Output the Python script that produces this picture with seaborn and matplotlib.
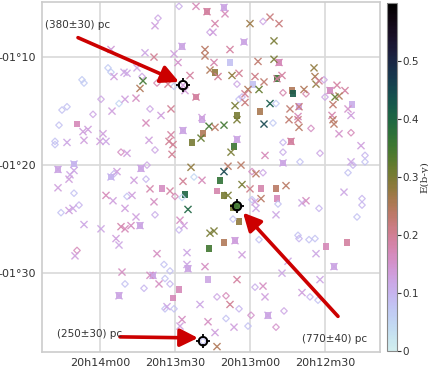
import numpy as np
import pandas as pd
import matplotlib
matplotlib.use('Agg')
import matplotlib.pyplot as plt
from matplotlib.colors import ListedColormap, Normalize
from matplotlib.cm import ScalarMappable
from matplotlib.path import Path
import seaborn as sns

# RA in seconds of time after 20h00m, Dec in arcmin
diamond_ra = [808.4, 816.8, 796.0, 836.8, 835.6, 847.2, 846.4, 823.2, 817.2, 810.4,
              839.6, 832.4, 855.2, 853.2, 820.0, 842.8, 774.8, 785.2, 750.4, 766.8,
              757.6, 750.0, 784.4, 783.2, 769.6, 856.4, 858.0, 858.0, 818.0, 831.6,
              821.2, 850.4, 834.4, 821.6, 802.4, 810.0, 829.2, 807.2, 855.6, 848.4,
              818.0, 808.4, 770.8, 755.6, 739.6, 766.8, 766.8, 752.0, 734.0, 738.8,
              734.0, 760.0, 779.2, 774.8, 768.8, 779.2, 786.8, 752.4, 740.8, 735.2,
              735.2, 737.2, 760.8, 849.2, 814.4, 830.0, 822.4, 812.0, 814.0, 812.0,
              814.0, 810.4, 798.8, 776.4, 760.4, 756.4, 754.0, 778.0, 756.0, 752.8,
              793.2, 789.6, 784.4, 766.4, 789.6, 779.6, 780.8, 769.6]
diamond_dec = [-65.3, -66.4, -67.7, -71.0, -71.4, -72.1, -72.4, -71.8, -72.4, -72.7,
               -73.9, -74.3, -74.9, -74.6, -74.8, -75.3, -66.7, -72.5, -72.1, -73.3,
               -73.4, -73.7, -73.9, -73.7, -74.3, -76.3, -77.8, -78.1, -78.6, -78.8,
               -80.0, -82.6, -80.8, -81.3, -81.1, -82.9, -82.9, -83.0, -84.4, -83.7,
               -84.6, -86.0, -76.1, -76.6, -77.0, -77.9, -78.8, -78.9, -79.1, -80.0,
               -79.7, -79.7, -80.6, -80.7, -83.6, -83.2, -85.0, -84.0, -80.7, -83.1,
               -83.7, -84.8, -86.5, -87.9, -89.2, -91.0, -91.4, -89.8, -90.5, -91.0,
               -93.3, -93.3, -96.3, -86.9, -86.8, -86.9, -86.8, -91.3, -92.2, -92.5,
               -92.2, -92.1, -93.3, -93.5, -94.2, -93.9, -94.9, -95.0]
diamond_ebv = [0.11, 0.12, 0.12, 0.07, 0.07, 0.07, 0.07, 0.12, 0.18, 0.07,
               0.12, 0.05, 0.08, 0.08, 0.12, 0.12, 0.12, 0.12, 0.12, 0.18,
               0.18, 0.12, 0.08, 0.10, 0.07, 0.08, 0.08, 0.08, 0.12, 0.16,
               0.12, 0.08, 0.10, 0.10, 0.05, 0.17, 0.08, 0.05, 0.08, 0.10,
               0.11, 0.10, 0.07, 0.16, 0.17, 0.10, 0.11, 0.12, 0.10, 0.10,
               0.08, 0.08, 0.16, 0.12, 0.08, 0.08, 0.08, 0.10, 0.08, 0.10,
               0.10, 0.08, 0.08, 0.17, 0.08, 0.08, 0.10, 0.08, 0.08, 0.10,
               0.08, 0.08, 0.08, 0.08, 0.10, 0.08, 0.08, 0.11, 0.10, 0.08,
               0.12, 0.17, 0.10, 0.12, 0.08, 0.15, 0.08, 0.15]

cross_ra = [801.6, 818.0, 835.6, 822.0, 810.4, 798.0, 818.4, 808.8, 798.0, 796.0,
            834.4, 830.4, 829.2, 825.2, 822.8, 824.0, 812.8, 804.0, 806.0, 806.8,
            830.0, 825.6, 835.2, 815.6, 811.6, 799.2, 790.0, 780.0, 772.0, 768.4,
            794.0, 794.8, 770.4, 788.0, 794.4, 776.8, 770.4, 792.8, 787.2, 784.4,
            778.0, 774.4, 776.4, 767.2, 769.2, 754.4, 754.0, 753.6, 752.4, 758.4,
            745.2, 742.0, 744.4, 746.0, 748.0, 780.8, 782.0, 782.0, 786.0, 772.0,
            764.0, 760.8, 760.4, 746.8, 747.2, 740.8, 739.6, 846.8, 844.8, 846.4,
            853.2, 838.8, 840.0, 837.6, 821.6, 820.4, 811.6, 812.4, 810.8, 811.2,
            806.8, 799.6, 796.4, 829.2, 856.8, 850.4, 850.4, 852.0, 852.4, 856.8,
            823.6, 833.2, 835.6, 826.4, 803.6, 806.8, 799.2, 820.0, 812.0, 837.6,
            834.8, 827.2, 804.8, 818.4, 830.0, 852.4, 850.8, 825.6, 846.4, 839.6,
            831.6, 830.0, 827.6, 824.0, 808.0, 806.4, 796.0, 790.4, 785.2, 794.0,
            774.4, 764.4, 760.4, 760.8, 746.8, 746.4, 744.4, 785.2, 787.6, 763.6,
            774.0, 735.6, 739.6, 766.8, 783.6, 788.8, 790.4, 777.6, 783.2, 780.0,
            765.6, 788.8, 775.6, 778.0, 777.6, 785.2, 769.6, 759.2, 757.6, 742.4,
            794.4, 850.0, 833.6, 832.4, 817.2, 805.2, 831.2, 820.0, 818.8, 816.4,
            805.2, 804.8, 798.0, 832.4, 813.2, 800.0, 807.2, 808.0, 796.8, 786.0,
            783.2, 753.6, 746.4, 764.8, 767.2, 752.0, 785.2, 774.8, 774.0, 759.2,
            788.0, 772.8, 786.4, 794.0, 793.2, 790.4, 782.4, 807.2, 797.2, 801.6,
            768.4]
cross_dec = [-65.3, -67.1, -69.3, -69.6, -69.7, -69.3, -70.0, -70.5, -69.9, -71.2,
             -71.8, -71.4, -71.5, -71.0, -72.2, -72.9, -72.5, -71.7, -73.1, -72.6,
             -73.9, -73.8, -75.0, -75.4, -74.8, -75.6, -66.0, -66.9, -66.3, -66.9,
             -66.9, -67.7, -68.5, -69.3, -70.5, -70.4, -70.2, -71.8, -71.7, -71.5,
             -71.8, -72.3, -73.0, -71.7, -72.0, -71.0, -71.8, -72.5, -72.2, -73.0,
             -72.6, -73.1, -73.6, -73.7, -73.1, -73.0, -73.4, -74.2, -74.5, -74.3,
             -74.8, -75.5, -74.6, -74.4, -75.4, -74.8, -75.4, -76.9, -76.7, -77.7,
             -77.9, -77.1, -77.8, -77.8, -76.1, -77.7, -77.2, -77.8, -78.1, -79.0,
             -76.8, -77.5, -76.4, -78.9, -80.4, -79.9, -80.5, -80.9, -81.3, -82.1,
             -80.3, -80.6, -81.1, -81.4, -80.2, -81.5, -81.4, -82.2, -82.4, -82.8,
             -83.3, -82.8, -84.1, -83.4, -84.0, -84.2, -84.0, -84.8, -85.5, -85.9,
             -85.7, -85.9, -85.6, -85.6, -85.1, -85.6, -86.3, -76.3, -75.8, -76.5,
             -76.2, -75.8, -76.5, -75.8, -75.8, -76.2, -77.1, -77.6, -78.8, -77.8,
             -79.1, -78.2, -79.7, -79.8, -80.0, -80.1, -80.6, -80.8, -81.8, -82.2,
             -81.9, -82.8, -83.1, -83.4, -84.0, -83.8, -84.6, -83.5, -83.3, -82.5,
             -86.1, -88.4, -86.8, -87.4, -88.2, -88.1, -89.9, -90.2, -90.2, -91.0,
             -89.2, -89.6, -89.4, -92.1, -93.1, -92.9, -94.3, -94.9, -94.5, -87.0,
             -88.3, -88.2, -89.4, -88.9, -90.0, -90.6, -90.6, -91.2, -92.2, -91.8,
             -92.9, -93.9, -95.0, -95.5, -96.8, -65.4, -68.6, -69.0, -65.8, -73.7,
             -70.5]
cross_ebv = [0.17, 0.13, 0.14, 0.12, 0.13, 0.24, 0.20, 0.15, 0.24, 0.25,
             0.13, 0.12, 0.12, 0.12, 0.35, 0.25, 0.20, 0.19, 0.14, 0.13,
             0.13, 0.16, 0.13, 0.13, 0.20, 0.13, 0.17, 0.27, 0.22, 0.22,
             0.18, 0.13, 0.30, 0.19, 0.18, 0.23, 0.30, 0.20, 0.28, 0.20,
             0.21, 0.23, 0.32, 0.19, 0.19, 0.28, 0.26, 0.28, 0.20, 0.25,
             0.19, 0.19, 0.25, 0.32, 0.15, 0.25, 0.20, 0.22, 0.30, 0.42,
             0.23, 0.17, 0.22, 0.23, 0.18, 0.15, 0.13, 0.13, 0.13, 0.13,
             0.12, 0.13, 0.13, 0.12, 0.17, 0.13, 0.19, 0.20, 0.20, 0.20,
             0.12, 0.32, 0.35, 0.13, 0.12, 0.10, 0.12, 0.12, 0.13, 0.13,
             0.12, 0.13, 0.10, 0.13, 0.28, 0.20, 0.17, 0.18, 0.19, 0.17,
             0.13, 0.13, 0.40, 0.16, 0.13, 0.13, 0.12, 0.13, 0.12, 0.12,
             0.18, 0.17, 0.16, 0.12, 0.16, 0.13, 0.30, 0.35, 0.30, 0.24,
             0.45, 0.23, 0.24, 0.21, 0.24, 0.24, 0.15, 0.12, 0.30, 0.19,
             0.17, 0.13, 0.12, 0.12, 0.24, 0.24, 0.45, 0.24, 0.30, 0.21,
             0.24, 0.30, 0.24, 0.13, 0.12, 0.35, 0.12, 0.12, 0.16, 0.12,
             0.30, 0.13, 0.13, 0.12, 0.16, 0.12, 0.16, 0.16, 0.12, 0.16,
             0.12, 0.12, 0.16, 0.12, 0.12, 0.12, 0.16, 0.13, 0.16, 0.13,
             0.13, 0.12, 0.12, 0.12, 0.12, 0.12, 0.19, 0.16, 0.13, 0.13,
             0.20, 0.12, 0.13, 0.13, 0.25, 0.12, 0.12, 0.12, 0.19, 0.19,
             0.17]

square_ra = [797.2, 807.2, 801.6, 790.4, 782.4, 788.0, 768.4, 794.0, 778.8, 769.2,
             763.2, 762.8, 748.0, 785.2, 776.0, 760.4, 739.2, 849.2, 806.8, 799.2,
             798.8, 803.2, 856.8, 850.4, 823.6, 835.6, 815.2, 806.0, 786.4, 785.2,
             763.6, 766.8, 792.0, 793.2, 775.6, 769.6, 769.2, 790.4, 786.8, 784.4,
             796.4, 818.8, 804.8, 796.8, 832.4, 808.4, 810.8, 790.4, 786.0, 749.6,
             741.2, 746.4, 772.8, 824.0, 785.2]
square_dec = [-65.8, -69.0, -73.7, -65.4, -68.6, -70.5, -70.5, -71.4, -72.5, -72.0,
              -73.1, -73.4, -73.1, -75.4, -75.0, -74.6, -74.4, -76.2, -76.8, -75.8,
              -77.1, -77.9, -80.4, -79.9, -80.3, -81.1, -82.2, -82.7, -78.3, -77.6,
              -77.8, -79.8, -81.4, -82.4, -82.2, -82.2, -83.1, -82.8, -83.9, -85.2,
              -87.7, -90.2, -89.6, -90.6, -92.1, -91.5, -92.3, -87.2, -87.0, -87.5,
              -87.2, -89.4, -93.9, -85.6, -83.8]
square_ebv = [0.19, 0.12, 0.19, 0.12, 0.12, 0.08, 0.17, 0.28, 0.08, 0.36,
              0.25, 0.42, 0.17, 0.30, 0.26, 0.12, 0.11, 0.17, 0.12, 0.12,
              0.25, 0.30, 0.12, 0.10, 0.12, 0.10, 0.16, 0.40, 0.36, 0.12,
              0.19, 0.12, 0.37, 0.18, 0.18, 0.24, 0.17, 0.30, 0.30, 0.28,
              0.35, 0.12, 0.12, 0.12, 0.12, 0.17, 0.17, 0.25, 0.13, 0.17,
              0.19, 0.12, 0.12, 0.12, 0.35]

target_ra = [806.8, 785.2, 798.8]
target_dec = [-72.6, -83.8, -96.3]
target_label = ['(380±30) pc', '(770±40) pc', '(250±30) pc']
label_ra = [862.0, 759.2, 857.2]
label_dec = [-67.0, -96.1, -95.6]
arrow_tail_ra = [848.8, 744.8, 832.0]
arrow_tail_dec = [-68.2, -94.0, -95.9]
arrow_tip_ra = [808.4, 782.8, 800.8]
arrow_tip_dec = [-72.3, -84.4, -96.0]

ra_ticks = [840, 810, 780, 750]
ra_ticklabels = ['20h14m00', '20h13m30', '20h13m00', '20h12m30']
dec_ticks = [-70, -80, -90]
dec_ticklabels = ['-01°10', '-01°20', '-01°30']
cbar_ticks = [0, 0.1, 0.2, 0.3, 0.4, 0.5]

sns.set_style('whitegrid', {'grid.color': '#d9d9d9', 'axes.edgecolor': '#cccccc'})
plt.rcParams['font.family'] = ['DejaVu Sans']

cmap = ListedColormap(plt.cm.cubehelix(np.linspace(0.9, 0.0, 256)))
vmin, vmax = 0.0, 0.6

fig = plt.figure(figsize=(4.28, 3.76), dpi=100)
ax = fig.add_axes([42/428, 24/376, 338/428, 350/376])

sq = pd.DataFrame({'ra': square_ra, 'dec': square_dec, 'ebv': square_ebv})
dm = pd.DataFrame({'ra': diamond_ra, 'dec': diamond_dec, 'ebv': diamond_ebv})
cr = pd.DataFrame({'ra': cross_ra, 'dec': cross_dec, 'ebv': cross_ebv})

sns.scatterplot(data=sq, x='ra', y='dec', hue='ebv', palette=cmap, hue_norm=(vmin, vmax),
                marker='s', s=24, linewidth=0, alpha=0.9, legend=False, ax=ax, zorder=3)

sns.scatterplot(data=dm, x='ra', y='dec', hue='ebv', palette=cmap, hue_norm=(vmin, vmax),
                marker='D', s=11, linewidth=0.9, legend=False, ax=ax, zorder=3)
coll = ax.collections[-1]
fc = coll.get_facecolors()
fc[:, 3] = 0.85
coll.set_edgecolors(fc)
coll.set_facecolors('none')

sns.scatterplot(data=cr, x='ra', y='dec', hue='ebv', palette=cmap, hue_norm=(vmin, vmax),
                marker='x', s=26, linewidth=1.0, legend=False, ax=ax, zorder=4)
coll = ax.collections[-1]
fc = coll.get_facecolors()
fc[:, 3] = 0.9
coll.set_edgecolors(fc)

# target markers: ring with four ticks
tick_path = Path([(0, 0.5), (0, 1), (0, -0.5), (0, -1), (0.5, 0), (1, 0), (-0.5, 0), (-1, 0)],
                 [Path.MOVETO, Path.LINETO] * 4)
ax.scatter(target_ra, target_dec, marker='o', s=38, facecolors='none',
           edgecolors='black', linewidths=1.4, zorder=6)
ax.scatter(target_ra, target_dec, marker=tick_path, s=95, c='black',
           linewidths=1.3, zorder=6)

for i in range(3):
    ax.annotate('', xy=(arrow_tip_ra[i], arrow_tip_dec[i]),
                xytext=(arrow_tail_ra[i], arrow_tail_dec[i]),
                arrowprops=dict(arrowstyle='-|>,head_length=0.9,head_width=0.45',
                                color='#cc0000', lw=2.6, mutation_scale=12,
                                shrinkA=0, shrinkB=0), zorder=7)
    ax.text(label_ra[i], label_dec[i], target_label[i], ha='left', va='center',
            fontsize=7.5, color='#333333', zorder=8)

ax.set_xlim(863.2, 728.0)
ax.set_ylim(-97.3, -64.9)
ax.set_xticks(ra_ticks)
ax.set_xticklabels(ra_ticklabels)
ax.set_yticks(dec_ticks)
ax.set_yticklabels(dec_ticklabels)
ax.set_xlabel('')
ax.set_ylabel('')
ax.tick_params(length=0, labelsize=8, colors='#333333', pad=4)
ax.grid(True, color='#d9d9d9', lw=1.2)
ax.set_axisbelow(True)
for sp in ax.spines.values():
    sp.set_color('#cccccc')
    sp.set_linewidth(1.2)

cax = fig.add_axes([387/428, 25/376, 10/428, 348/376])
sm = ScalarMappable(norm=Normalize(vmin, vmax), cmap=cmap)
cb = fig.colorbar(sm, cax=cax)
cb.set_ticks(cbar_ticks)
cb.set_ticklabels(['0', '0.1', '0.2', '0.3', '0.4', '0.5'])
cb.ax.tick_params(labelsize=7.5, colors='#333333', length=3, width=0.8, pad=1)
cb.outline.set_edgecolor('#888888')
cb.outline.set_linewidth(0.8)
cb.set_label('E(b-y)', family='DejaVu Serif', fontsize=7.5, color='#333333')
cb.ax.yaxis.set_label_coords(3.3, 0.5)

fig.savefig('out.png', dpi=100)
